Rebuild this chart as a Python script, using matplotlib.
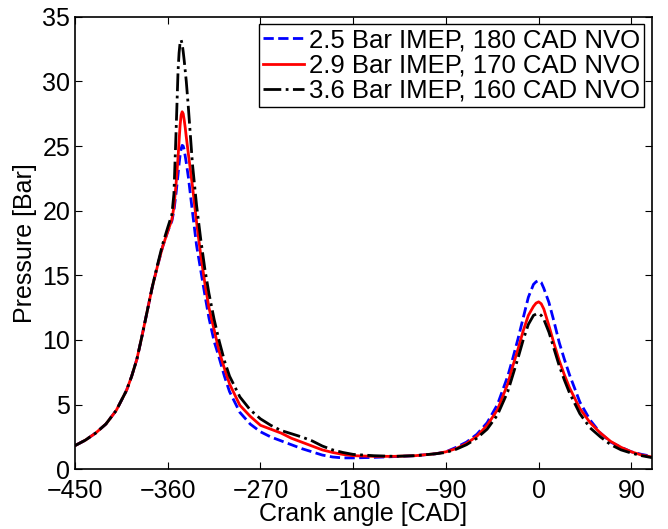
import numpy as np
import matplotlib
matplotlib.use('Agg')
import matplotlib.pyplot as plt

plt.rcParams['font.family'] = ['Liberation Sans', 'DejaVu Sans']

# crank angle [CAD]
angle = [-450, -440, -430, -420, -410, -400, -395, -390, -385, -380, -375, -370,
         -365, -360, -356, -354, -352, -350, -349, -348, -347, -346, -345, -344,
         -343, -342, -340, -336,
         -332, -328, -324, -320, -315, -310, -305, -300, -290, -280, -270, -260,
         -250, -240, -230, -220, -210, -200, -190, -180, -160, -140, -120, -100,
         -90, -80, -70, -60, -50, -40, -30, -25, -20, -15, -10, -5, -2.5, 0, 2.5,
         5, 10, 15, 20, 25, 30, 40, 50, 60, 70, 80, 90, 100, 110]

# pressure [Bar]
p_25 = [1.83, 2.25, 2.8, 3.5, 4.55, 6.1, 7.2, 8.5, 10.3, 12.2, 14.1, 15.7,
        17.2, 18.4, 19.2, 20.0, 21.3, 22.8, 23.6, 24.3, 24.8, 25.05, 25.0, 24.7,
        24.2, 23.7, 22.6, 19.9,
        17.3, 15.4, 13.5, 11.7, 9.9, 8.6, 7.2, 6.0, 4.4, 3.5, 2.9, 2.5,
        2.2, 1.9, 1.6, 1.35, 1.1, 0.95, 0.88, 0.88, 0.92, 0.98, 1.05, 1.2,
        1.35, 1.7, 2.1, 2.7, 3.6, 5.0, 7.2, 8.6, 10.1, 11.7, 13.3, 14.3, 14.5, 14.6, 14.45,
        14.0, 12.9, 11.4, 9.8, 8.5, 7.3, 5.2, 3.8, 2.8, 2.1, 1.7, 1.35, 1.15, 1.0]

p_29 = [1.83, 2.25, 2.8, 3.5, 4.55, 6.1, 7.2, 8.5, 10.3, 12.2, 14.1, 15.7,
        17.2, 18.4, 19.3, 20.3, 22.0, 24.1, 25.4, 26.6, 27.4, 27.65, 27.5, 27.0,
        26.4, 25.7, 24.4, 21.9,
        19.1, 16.6, 14.4, 12.5, 10.8, 9.1, 7.8, 6.6, 4.95, 4.1, 3.4, 3.1,
        2.8, 2.4, 2.1, 1.8, 1.5, 1.3, 1.15, 1.05, 1.0, 1.0, 1.05, 1.2,
        1.35, 1.6, 2.0, 2.55, 3.4, 4.6, 6.6, 8.0, 9.3, 10.7, 11.9, 12.6, 12.85, 12.95, 12.8,
        12.4, 11.1, 9.7, 8.4, 7.3, 6.3, 4.7, 3.6, 2.8, 2.15, 1.7, 1.35, 1.1, 0.95]

p_36 = [1.83, 2.25, 2.8, 3.5, 4.55, 6.1, 7.2, 8.5, 10.3, 12.2, 14.1, 15.8,
        17.4, 18.7, 19.7, 21.3, 25.9, 30.8, 32.2, 33.0, 33.2, 32.9, 32.3, 31.6,
        30.8, 30.0, 28.0, 23.6,
        20.4, 17.8, 15.5, 13.6, 11.6, 9.9, 8.4, 7.2, 5.6, 4.6, 3.9, 3.4,
        3.0, 2.75, 2.5, 2.2, 1.8, 1.5, 1.3, 1.15, 1.05, 1.0, 1.05, 1.2,
        1.3, 1.55, 1.9, 2.4, 3.1, 4.2, 6.0, 7.3, 8.6, 10.0, 11.2, 11.9, 12.0, 12.05, 11.9,
        11.6, 10.6, 9.3, 8.0, 6.9, 5.9, 4.3, 3.2, 2.5, 1.9, 1.5, 1.25, 1.05, 0.9]

labels = ['2.5 Bar IMEP, 180 CAD NVO',
          '2.9 Bar IMEP, 170 CAD NVO',
          '3.6 Bar IMEP, 160 CAD NVO']

fig = plt.figure(figsize=(6.68, 5.29), dpi=100)
ax = fig.add_axes([0.1123, 0.1129, 0.8637, 0.8555])

ax.plot(angle, p_25, '--', color='blue', lw=2, label=labels[0])
ax.plot(angle, p_29, '-', color='red', lw=2, label=labels[1])
ax.plot(angle, p_36, '-.', color='black', lw=2, label=labels[2])

ax.set_xlim(-450, 110)
ax.set_ylim(0, 35)
ax.set_xticks(np.arange(-450, 91, 90))
ax.set_yticks(np.arange(0, 36, 5))
ax.tick_params(direction='in', top=True, right=True, labelsize=18, length=5)
ax.tick_params(axis='x', pad=7)
ax.set_xlabel('Crank angle [CAD]', fontsize=18, labelpad=-1)
ax.set_ylabel('Pressure [Bar]', fontsize=18, labelpad=4)
for s in ax.spines.values():
    s.set_linewidth(1.2)

leg = ax.legend(loc='upper right', fontsize=18.5, fancybox=False, framealpha=1,
                edgecolor='black', handlelength=1.6, handletextpad=0.2,
                labelspacing=0.05, borderpad=0.15, borderaxespad=0.3)
leg.get_frame().set_linewidth(1.0)

fig.savefig('out.png', dpi=100)
